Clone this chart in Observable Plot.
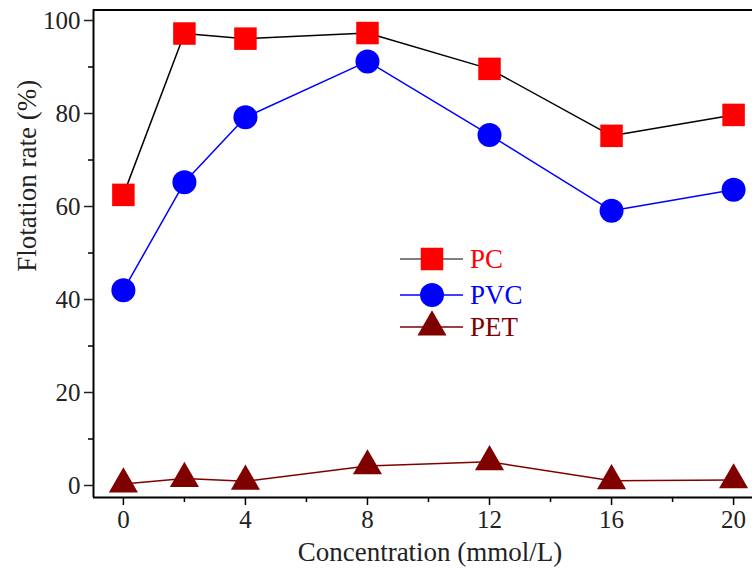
<!DOCTYPE html>
<html>
<head>
<meta charset="utf-8">
<script src="https://cdn.jsdelivr.net/npm/d3@7"></script>
<script src="https://cdn.jsdelivr.net/npm/@observablehq/plot@0.6"></script>
<style>
  html, body { margin: 0; padding: 0; background: #fff; }
  #chart svg { display: block; }
</style>
</head>
<body>
<div id="chart"></div>
<script>
const concentration = [0, 2, 4, 8, 12, 16, 20];
const pcValues  = [62.5, 97.2, 96.1, 97.3, 89.6, 75.2, 79.7];
const pvcValues = [42.0, 65.2, 79.2, 91.2, 75.4, 59.1, 63.6];
const petValues = [0.3, 1.5, 0.9, 4.2, 5.1, 1.0, 1.2];

const seriesNames  = ["PC", "PVC", "PET"];
const lineColors   = ["#000000", "#0000ff", "#800000"];
const markerColors = ["#ff0000", "#0000ff", "#800000"];
const textColors   = ["#ff0000", "#0000ff", "#800000"];
const symbols      = ["square", "circle", "triangle"];
const markerR      = [12.7, 12, 10.8];

const xTicks      = [0, 4, 8, 12, 16, 20];
const xMinorTicks = [2, 6, 10, 14, 18];
const yTicks      = [0, 20, 40, 60, 80, 100];
const yMinorTicks = [10, 30, 50, 70, 90];

const seriesValues = [pcValues, pvcValues, petValues];
const data = seriesNames.map((name, i) =>
  concentration.map((c, j) => ({ series: name, x: c, y: seriesValues[i][j] }))
);

const FONT = "'Liberation Serif', 'Times New Roman', serif";
const W = 752, H = 573;
const mL = 93, mT = 9.5, mB = 76, mR = 0;

const marks = [
  Plot.ruleX([-0.98], { stroke: "#000", strokeWidth: 2 }),
  Plot.ruleY([-2.58], { stroke: "#000", strokeWidth: 2 }),
  Plot.ruleY([102.26], { stroke: "#000", strokeWidth: 2 }),
  Plot.axisX({ ticks: xTicks, tickSize: 8, tickPadding: 5, fontSize: 25, label: null, stroke: "#000", strokeWidth: 1.5, color: "#222" }),
  Plot.axisX({ ticks: xMinorTicks, tickSize: 5, text: null, label: null, strokeWidth: 1.5 }),
  Plot.axisY({ ticks: yTicks, tickSize: 9, tickPadding: 4, fontSize: 25, label: null, strokeWidth: 1.5, color: "#222" }),
  Plot.axisY({ ticks: yMinorTicks, tickSize: 5, text: null, label: null, strokeWidth: 1.5 }),
];

data.forEach((d, i) => {
  marks.push(Plot.line(d, { x: "x", y: "y", stroke: lineColors[i], strokeWidth: 1.5 }));
});
data.forEach((d, i) => {
  marks.push(Plot.dot(d, { x: "x", y: "y", symbol: () => symbols[i], r: markerR[i], fill: markerColors[i], stroke: "none" }));
});

marks.push(Plot.text(["Concentration (mmol/L)"], {
  frameAnchor: "bottom", dy: 55, dx: 7, fontSize: 27, fill: "#222", lineAnchor: "middle"
}));
marks.push(Plot.text(["Flotation rate (%)"], {
  frameAnchor: "left", rotate: -90, dx: -66, dy: 18, fontSize: 27, fill: "#222", lineAnchor: "middle"
}));

const chart = Plot.plot({
  width: W,
  height: H,
  marginLeft: mL,
  marginTop: mT,
  marginBottom: mB,
  marginRight: mR,
  style: { fontFamily: FONT, background: "#fff", overflow: "visible" },
  x: { domain: [-0.98, 20.62] },
  y: { domain: [-2.58, 102.26] },
  symbol: { type: "identity" },
  marks
});

// Legend (pixel layout)
const svg = d3.select(chart);
const legend = svg.append("g").attr("font-family", FONT).attr("text-anchor", "start");
const rowsY = [259, 295, 327];
seriesNames.forEach((name, i) => {
  const g = legend.append("g").attr("transform", `translate(0,${rowsY[i]})`);
  g.append("line").attr("x1", 400).attr("x2", 463).attr("y1", 0).attr("y2", 0)
    .attr("stroke", i === 0 ? "#555" : lineColors[i]).attr("stroke-width", 1.5);
  const symType = [d3.symbolSquare, d3.symbolCircle, d3.symbolTriangle][i];
  g.append("path").attr("transform", `translate(432,0)`)
    .attr("d", d3.symbol(symType, markerR[i] * markerR[i] * Math.PI)())
    .attr("fill", markerColors[i]);
  g.append("text").attr("x", 470).attr("y", 0).attr("dy", "0.35em")
    .attr("text-anchor", "start")
    .attr("font-size", 27).attr("fill", textColors[i]).text(name);
});

document.getElementById("chart").appendChild(chart);
</script>
</body>
</html>
